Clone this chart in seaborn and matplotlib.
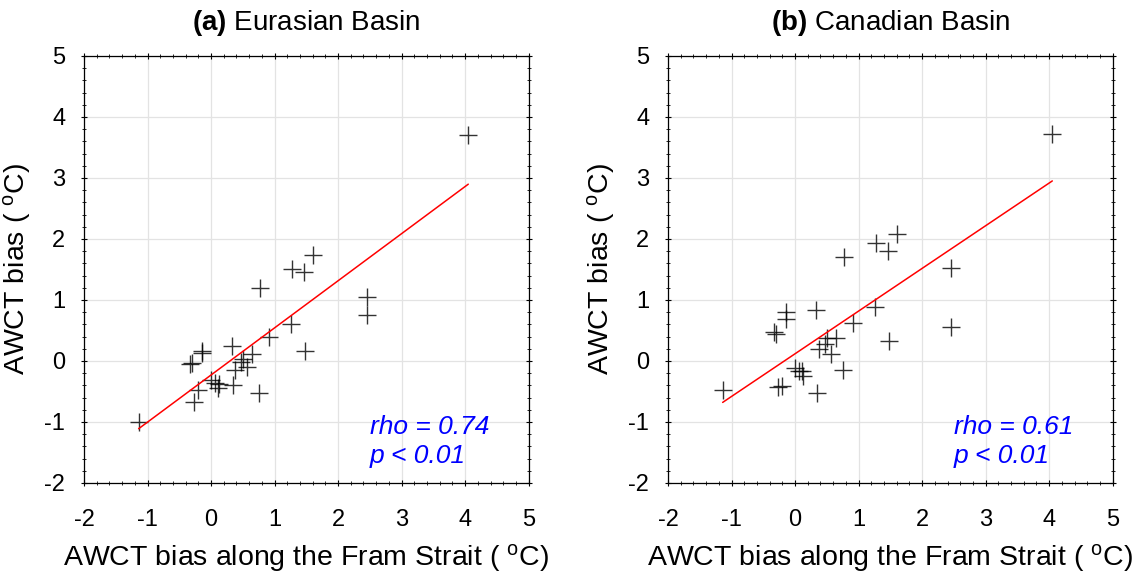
import numpy as np
import pandas as pd
import matplotlib
matplotlib.use("Agg")
import matplotlib.pyplot as plt
import seaborn as sns
from matplotlib.ticker import MultipleLocator

# Data
fram_bias = [-1.14, -0.33, -0.30, -0.27, -0.21, -0.15, -0.14, 0.00, 0.06, 0.11,
             0.13, 0.33, 0.34, 0.37, 0.47, 0.50, 0.56, 0.65, 0.75, 0.77,
             0.91, 1.26, 1.28, 1.46, 1.48, 1.60, 2.45, 2.45, 4.05]
eurasian_bias = [-1.00, -0.05, -0.03, -0.67, -0.47, 0.17, 0.13, -0.32, -0.36, -0.45,
                 -0.38, 0.25, -0.40, -0.15, -0.02, 0.04, -0.10, 0.12, -0.53, 1.20,
                 0.40, 0.61, 1.51, 1.46, 0.16, 1.73, 1.05, 0.75, 3.70]
canadian_bias = [-0.48, 0.47, 0.44, -0.42, -0.41, 0.80, 0.68, -0.12, -0.16, -0.16,
                 -0.24, 0.83, -0.52, 0.19, 0.28, 0.37, 0.11, 0.37, -0.14, 1.71,
                 0.62, 0.88, 1.93, 1.81, 0.32, 2.08, 1.52, 0.55, 3.72]
panel_tags = ["(a)", "(b)"]
panel_names = ["Eurasian Basin", "Canadian Basin"]
rho_texts = ["rho = 0.74", "rho = 0.61"]
p_texts = ["p < 0.01", "p < 0.01"]

sns.set_theme(style="white")
plt.rcParams["font.family"] = ["Liberation Sans", "DejaVu Sans"]
plt.rcParams["mathtext.fontset"] = "custom"
plt.rcParams["mathtext.rm"] = "Liberation Sans"
plt.rcParams["mathtext.it"] = "Liberation Sans:italic"
plt.rcParams["mathtext.bf"] = "Liberation Sans:bold"
plt.rcParams["mathtext.default"] = "regular"
plt.rcParams["axes.unicode_minus"] = False
plt.rcParams["text.color"] = "black"
plt.rcParams["axes.labelcolor"] = "black"
plt.rcParams["xtick.color"] = "black"
plt.rcParams["ytick.color"] = "black"

df = pd.DataFrame({"x": fram_bias, "Eurasian": eurasian_bias, "Canadian": canadian_bias})

fig = plt.figure(figsize=(11.4, 5.81), dpi=100)
axes = [fig.add_axes([0.0737, 0.1687, 0.390, 0.735]),
        fig.add_axes([0.586, 0.1687, 0.390, 0.735])]

for ax, col, tag, name, rt, pt in zip(axes, ["Eurasian", "Canadian"], panel_tags,
                                      panel_names, rho_texts, p_texts):
    sns.regplot(data=df, x="x", y=col, ax=ax, ci=None, marker="+",
                scatter_kws=dict(color="black", s=170, linewidths=1.0),
                line_kws=dict(color="red", lw=1.1))
    ax.set_xlim(-2, 5)
    ax.set_ylim(-2, 5)
    ax.xaxis.set_major_locator(MultipleLocator(1))
    ax.yaxis.set_major_locator(MultipleLocator(1))
    ax.xaxis.set_minor_locator(MultipleLocator(0.2))
    ax.yaxis.set_minor_locator(MultipleLocator(0.2))
    ax.grid(True, which="major", color="#e3e3e3", lw=0.9)
    ax.set_axisbelow(True)
    ax.tick_params(which="both", direction="inout", top=True, right=True,
                   bottom=True, left=True, color="black")
    ax.tick_params(which="major", length=5, width=0.8)
    ax.tick_params(which="minor", length=3, width=0.6)
    ax.tick_params(axis="x", which="major", pad=16, labelsize=17)
    ax.tick_params(axis="y", which="major", pad=11, labelsize=17)
    for s in ax.spines.values():
        s.set_color("black")
        s.set_linewidth(0.9)
    ax.set_xlabel("AWCT bias along the Fram Strait ( $^{o}$C)", fontsize=20.5, labelpad=8)
    ax.set_ylabel("AWCT bias ( $^{o}$C)", fontsize=20.5, labelpad=8)
    ax.set_title(r"$\mathbf{" + tag + "}$ " + name, fontsize=20, pad=19)
    ax.text(2.5, -1.08, rt, color="blue", style="italic", fontsize=19, va="center")
    ax.text(2.5, -1.55, pt, color="blue", style="italic", fontsize=19, va="center")

fig.savefig("out.png", dpi=100)
